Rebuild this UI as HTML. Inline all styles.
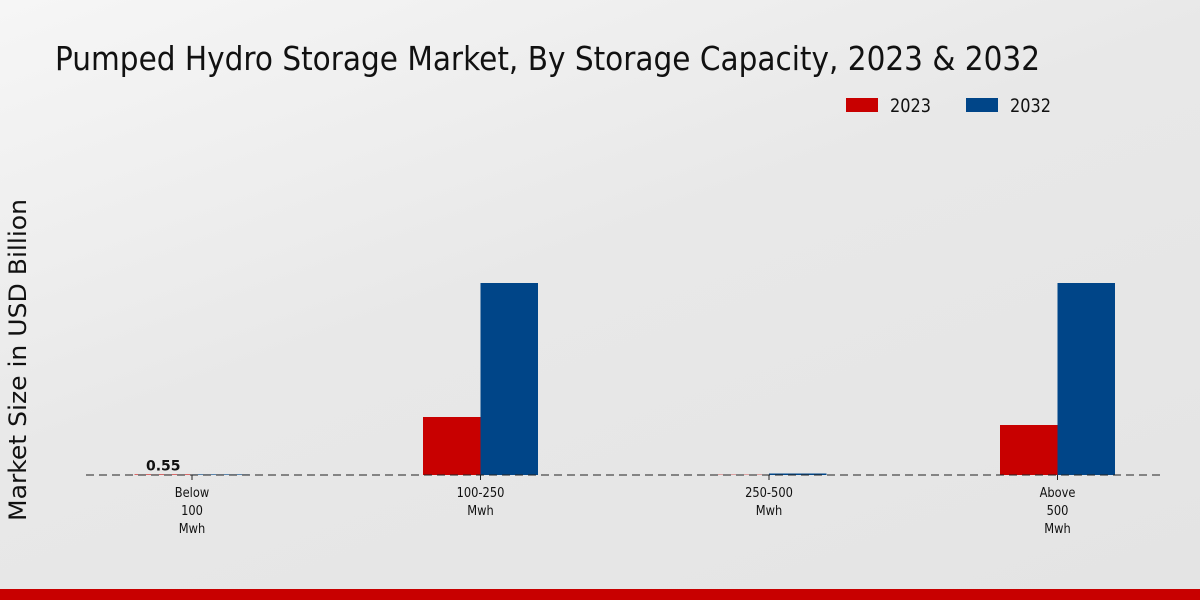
<!DOCTYPE html>
<html><head><meta charset="utf-8"><style>
body{margin:0;width:1200px;height:600px;overflow:hidden;font-family:"Liberation Sans","DejaVu Sans",sans-serif;}
#bg{position:absolute;left:0;top:0;width:1200px;height:600px;background:linear-gradient(160deg,#f6f6f6 0%,#e8e8e8 45%,#e4e4e4 100%);}
</style></head><body>
<div id="bg"></div>
<svg width="1200" height="600" style="position:absolute;left:0;top:0" font-family="DejaVu Sans, Liberation Sans, sans-serif">
<text x="55" y="70" font-size="33" fill="#111" textLength="985" lengthAdjust="spacingAndGlyphs">Pumped Hydro Storage Market, By Storage Capacity, 2023 &amp; 2032</text>
<g>
<rect x="846" y="98" width="32" height="14" fill="#c80000"/>
<text x="890" y="112" font-size="19" fill="#111" textLength="41" lengthAdjust="spacingAndGlyphs">2023</text>
<rect x="966" y="98" width="32" height="14" fill="#004588"/>
<text x="1010" y="112" font-size="19" fill="#111" textLength="41" lengthAdjust="spacingAndGlyphs">2032</text>
</g>
<text transform="translate(26,360) rotate(-90)" text-anchor="middle" font-size="24" fill="#111" textLength="322" lengthAdjust="spacingAndGlyphs">Market Size in USD Billion</text>
<g id="plot"></g>
<line x1="86" y1="475" x2="1165" y2="475" stroke="#222" stroke-dasharray="8,5" stroke-width="1"/>
<rect x="0" y="589" width="1200" height="11" fill="#c80000"/>
</svg>
<script>
const categories = [["Below","100","Mwh"],["100-250","Mwh"],["250-500","Mwh"],["Above","500","Mwh"]];
const values2023 = [0.55, 58, 0.3, 50];
const values2032 = [0.6, 192, 1.5, 192];
const valueLabels = ["0.55", null, null, null];
const ns = "http://www.w3.org/2000/svg";
const g = document.getElementById("plot");
const base = 475, pxPerUnit = 1.0, x0 = 192, step = 288.5, bw = 57.5;
const y = v => base - v * pxPerUnit;
const xc = i => x0 + i * step;
function mk(t, a){const e=document.createElementNS(ns,t);for(const k in a)e.setAttribute(k,a[k]);g.appendChild(e);return e;}
categories.forEach((c, i) => {
  const cx = xc(i);
  const r1 = mk("rect",{x:cx-bw,y:y(values2023[i]),width:bw,height:Math.max(0,base-y(values2023[i])),fill:"#c80000"});
  
  
  const r2 = mk("rect",{x:cx,y:y(values2032[i]),width:bw,height:Math.max(0,base-y(values2032[i])),fill:"#004588"});
  
  
  const tk = mk("line",{x1:cx,y1:base,x2:cx,y2:base+5,stroke:"#222"});
  
  
  c.forEach((ln, j) => {
    const t = mk("text",{x:cx,y:base+22+j*18,"text-anchor":"middle","font-size":"13",fill:"#111",transform:`translate(${cx*0.12},0) scale(0.88,1)`});
    t.textContent = ln;
    
    
  });
  if (valueLabels[i]) {
    const t = mk("text",{x:cx-bw/2,y:y(values2023[i])-4,"text-anchor":"middle","font-size":"14","font-weight":"bold",fill:"#111"});
    t.textContent = valueLabels[i];
    
    
  }
});
</script>
</body></html>
